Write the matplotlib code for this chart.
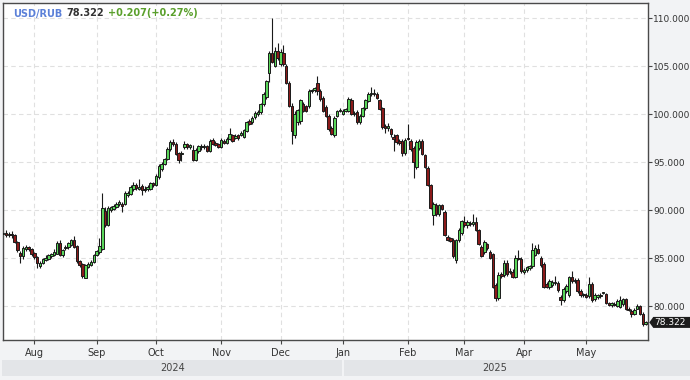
import numpy as np
import pandas as pd
import matplotlib
matplotlib.use("Agg")
import matplotlib.pyplot as plt
from matplotlib.patches import Rectangle, Polygon
from matplotlib.transforms import IdentityTransform

# ---------------- data ----------------
symbol = "USD/RUB"
change = 0.207
change_pct = 0.27
dates = pd.bdate_range("2024-07-17", "2025-05-30")

# (open, high, low, close) per trading day, grouped by month
jul = [(87.5, 87.8, 87.3, 87.6), (87.6, 87.9, 87.2, 87.4), (87.4, 87.7, 87.2, 87.5),
       (87.5, 87.8, 87.1, 87.4), (87.4, 87.5, 86.6, 86.7), (86.7, 86.8, 85.7, 85.9),
       (85.6, 85.8, 84.5, 85.2), (85.2, 86.3, 84.9, 86.1), (86.0, 86.4, 85.8, 86.2),
       (86.2, 86.3, 85.8, 86.0), (86.0, 86.1, 85.2, 85.4)]
aug = [(85.6, 85.7, 84.9, 85.1), (85.1, 85.2, 84.0, 84.5), (84.2, 84.7, 84.0, 84.5),
       (84.5, 85.0, 84.4, 84.9), (84.8, 85.3, 84.7, 85.0), (84.9, 85.5, 84.8, 85.35),
       (85.2, 85.6, 85.0, 85.4), (85.35, 86.0, 85.2, 85.7), (85.5, 86.8, 85.4, 86.55),
       (86.55, 86.9, 85.2, 85.35), (85.35, 86.0, 85.1, 85.9), (86.05, 86.4, 85.9, 86.2),
       (86.2, 86.7, 86.0, 86.55), (86.4, 87.0, 86.3, 86.9), (86.9, 87.3, 86.1, 86.2),
       (86.3, 86.4, 84.5, 84.7), (84.7, 84.8, 84.1, 84.3), (84.4, 84.5, 82.9, 83.15),
       (83.0, 84.4, 82.9, 84.3), (84.1, 84.6, 84.0, 84.45), (84.3, 84.8, 84.2, 84.6),
       (84.6, 85.4, 84.5, 85.3)]
sep = [(85.3, 85.9, 85.2, 85.75), (85.65, 87.1, 85.5, 86.3), (86.0, 91.8, 85.9, 90.25),
       (89.9, 90.3, 88.3, 88.45), (88.5, 90.4, 88.4, 90.2), (90.0, 90.5, 89.8, 90.3),
       (90.1, 90.7, 90.0, 90.5), (90.3, 90.9, 90.2, 90.7), (90.7, 91.1, 90.5, 90.9),
       (90.7, 90.9, 89.8, 90.4), (90.7, 92.0, 90.6, 91.8), (91.6, 92.0, 91.4, 91.8),
       (91.75, 92.6, 91.6, 92.4), (92.25, 92.9, 92.0, 92.6), (92.6, 92.8, 92.1, 92.3),
       (92.25, 93.3, 92.1, 92.4), (92.5, 92.7, 91.6, 92.1), (92.1, 92.5, 91.9, 92.25),
       (92.25, 92.6, 92.0, 92.4), (92.25, 93.0, 92.1, 92.8), (92.85, 93.0, 92.4, 92.6)]
oct_ = [(92.6, 93.8, 92.5, 93.6), (93.45, 94.8, 93.3, 94.65), (94.3, 95.0, 94.1, 94.8),
        (94.85, 95.5, 94.7, 95.35), (95.35, 96.6, 95.2, 96.4), (96.4, 97.3, 96.2, 97.1),
        (97.1, 97.4, 96.7, 96.9), (96.9, 97.1, 95.8, 95.9), (95.95, 96.1, 94.9, 95.2),
        (95.9, 96.2, 95.1, 96.0), (96.55, 97.2, 96.4, 96.9), (96.9, 97.0, 96.4, 96.6),
        (96.6, 96.9, 96.4, 96.8), (96.3, 96.8, 95.1, 95.25), (95.25, 96.5, 95.1, 96.3),
        (96.2, 96.8, 96.0, 96.65), (96.6, 96.9, 96.3, 96.6), (96.6, 96.9, 96.4, 96.7),
        (96.65, 96.8, 96.1, 96.2), (96.2, 97.4, 96.1, 97.25), (97.3, 97.5, 96.8, 96.9),
        (97.0, 97.2, 96.7, 96.8), (96.9, 97.0, 96.5, 96.6)]
nov = [(96.6, 97.5, 96.5, 97.3), (97.2, 97.4, 96.9, 97.0), (97.0, 97.6, 96.9, 97.4),
       (97.45, 98.6, 97.3, 97.9), (97.8, 98.0, 97.1, 97.25), (97.5, 97.9, 97.4, 97.7),
       (97.8, 98.0, 97.3, 97.5), (97.8, 98.3, 97.7, 98.1), (97.6, 98.5, 97.5, 98.35),
       (98.3, 99.3, 98.2, 99.15), (99.3, 99.5, 98.9, 99.0), (99.15, 99.8, 99.0, 99.65),
       (99.7, 100.3, 99.5, 100.1), (100.0, 100.4, 99.8, 100.2), (100.2, 101.2, 100.0, 101.05),
       (101.05, 102.3, 100.9, 102.15), (101.8, 103.6, 101.6, 103.45), (104.3, 106.6, 103.4, 106.4),
       (106.4, 110.0, 105.3, 105.5), (105.0, 107.0, 104.9, 106.65), (106.6, 107.4, 105.7, 105.9)]
dec = [(105.2, 106.8, 105.0, 106.5), (106.4, 107.2, 105.0, 105.2), (105.0, 105.2, 103.2, 103.3),
       (103.3, 103.5, 100.8, 100.9), (100.9, 101.2, 96.9, 98.3), (97.8, 100.3, 97.5, 100.0),
       (99.15, 100.6, 98.9, 100.4), (99.3, 101.6, 99.0, 101.45), (101.05, 101.3, 100.2, 100.35),
       (100.9, 101.0, 100.2, 100.35), (100.9, 102.6, 100.7, 102.45), (102.4, 102.6, 102.2, 102.5),
       (102.5, 102.8, 102.3, 102.7), (103.3, 104.0, 102.0, 102.45), (102.45, 102.6, 101.4, 101.6),
       (101.75, 101.9, 100.2, 100.35), (100.8, 101.0, 99.7, 99.85), (99.85, 100.0, 98.3, 98.45),
       (98.6, 98.8, 97.8, 97.95), (97.8, 99.8, 97.6, 99.65), (99.85, 100.5, 99.7, 100.35),
       (100.35, 100.7, 100.2, 100.5)]
jan = [(100.0, 100.6, 99.9, 100.35), (100.3, 100.7, 100.2, 100.55), (100.35, 101.8, 100.2, 101.6),
       (101.5, 101.7, 99.9, 100.0), (100.0, 100.3, 99.8, 100.1), (100.2, 100.4, 99.0, 99.15),
       (99.15, 100.0, 99.0, 99.85), (99.85, 100.8, 99.7, 100.7), (100.7, 101.6, 100.5, 101.45),
       (101.4, 102.3, 101.3, 102.15), (102.1, 102.8, 101.9, 102.25), (102.2, 102.6, 101.9, 102.1),
       (102.15, 102.3, 101.6, 101.7), (101.45, 101.6, 100.4, 100.55), (100.65, 100.8, 98.5, 98.7),
       (98.8, 99.0, 98.1, 98.6), (98.55, 99.1, 98.3, 98.8), (98.45, 98.6, 97.6, 97.95),
       (97.65, 97.9, 96.2, 97.4), (97.8, 98.0, 96.9, 97.1), (97.2, 97.4, 96.8, 97.05),
       (97.25, 97.4, 95.7, 95.95), (96.0, 97.5, 95.8, 97.3)]
feb = [(97.5, 99.0, 97.3, 97.4), (97.25, 97.4, 96.2, 96.4), (96.5, 96.7, 93.4, 95.0),
       (94.55, 97.3, 94.3, 97.1), (96.5, 97.4, 96.3, 97.25), (97.2, 97.4, 95.8, 95.9),
       (95.8, 95.9, 94.4, 94.55), (94.4, 94.6, 92.5, 92.6), (92.6, 92.7, 90.1, 90.2),
       (89.5, 90.9, 88.5, 90.7), (90.55, 90.8, 89.4, 89.6), (89.6, 90.7, 89.4, 90.55),
       (90.55, 90.7, 90.0, 90.1), (89.85, 90.0, 87.3, 87.4), (87.25, 87.4, 86.8, 86.9),
       (87.1, 87.2, 86.7, 86.8), (86.9, 87.1, 85.0, 85.2), (84.8, 87.0, 84.5, 86.9),
       (86.9, 88.2, 86.7, 88.0), (87.6, 89.0, 87.4, 88.9)]
mar = [(88.8, 89.4, 88.3, 88.45), (88.45, 89.0, 88.2, 88.8), (88.7, 88.9, 88.4, 88.6),
       (88.6, 89.6, 88.4, 88.8), (88.8, 89.3, 87.8, 87.9), (88.0, 88.1, 86.4, 86.5),
       (86.2, 86.4, 85.1, 85.2), (85.7, 86.9, 85.5, 86.7), (86.5, 86.6, 85.9, 86.1),
       (85.7, 85.9, 84.9, 85.0), (85.45, 85.6, 81.9, 82.05), (82.2, 82.4, 80.6, 80.9),
       (80.9, 83.6, 80.7, 83.3), (83.4, 83.6, 83.0, 83.2), (83.3, 84.8, 83.1, 84.5),
       (84.5, 84.8, 83.2, 83.4), (83.6, 84.0, 83.4, 83.7), (83.6, 83.9, 82.9, 83.1),
       (83.1, 85.3, 82.9, 85.0), (85.0, 85.9, 84.8, 84.9), (84.9, 85.1, 83.5, 83.7)]
apr = [(83.6, 84.0, 83.4, 83.8), (83.8, 84.2, 83.6, 84.1), (84.0, 84.3, 83.8, 84.2),
       (84.15, 86.6, 84.0, 85.85), (85.35, 86.4, 85.2, 86.05), (86.0, 86.5, 85.4, 85.6),
       (85.0, 85.2, 84.1, 84.3), (84.4, 84.6, 81.9, 82.05), (82.3, 82.5, 81.9, 82.05),
       (82.0, 82.8, 81.8, 82.6), (82.2, 82.7, 82.0, 82.5), (82.5, 83.2, 82.2, 82.4),
       (82.4, 82.6, 81.5, 81.7), (81.0, 81.2, 80.1, 80.7), (80.7, 82.0, 80.5, 81.8),
       (81.6, 82.3, 81.4, 82.1), (81.2, 83.2, 81.0, 83.05), (83.05, 83.7, 82.4, 82.6),
       (82.7, 82.9, 82.4, 82.6), (82.75, 82.9, 81.4, 81.55), (81.55, 81.8, 81.0, 81.2),
       (81.2, 81.4, 81.0, 81.25)]
may = [(81.2, 81.4, 80.9, 81.0), (81.1, 83.05, 80.9, 82.35), (82.35, 82.5, 80.5, 80.7),
       (80.8, 81.4, 80.6, 81.2), (81.0, 81.3, 80.8, 81.2), (81.1, 81.4, 80.9, 81.2),
       (81.4, 81.5, 81.3, 81.4), (81.3, 81.4, 80.2, 80.3), (80.3, 80.4, 80.0, 80.1),
       (80.1, 80.4, 79.9, 80.3), (80.2, 80.4, 80.0, 80.1), (80.0, 80.8, 79.9, 80.6),
       (79.9, 81.1, 79.8, 80.7), (80.2, 80.9, 80.0, 80.8), (80.8, 80.9, 79.6, 79.7),
       (79.7, 79.9, 79.5, 79.6), (79.5, 79.7, 78.9, 79.2), (79.2, 79.8, 79.1, 79.6),
       (79.75, 80.2, 79.7, 80.0), (80.0, 80.1, 79.1, 79.25), (79.25, 79.4, 78.0, 78.115),
       (78.115, 78.5, 78.05, 78.322)]

month_labels = ["Aug", "Sep", "Oct", "Nov", "Dec", "Jan", "Feb", "Mar", "Apr", "May"]
year_labels = ["2024", "2025"]
y_ticks = [80, 85, 90, 95, 100, 105, 110]

df = pd.DataFrame(jul + aug + sep + oct_ + nov + dec + jan + feb + mar + apr + may,
                  columns=["open", "high", "low", "close"], index=dates)

# ---------------- figure ----------------
W, HP = 690, 380
BG = "#f2f3f5"
fig = plt.figure(figsize=(W / 100, HP / 100), dpi=100, facecolor=BG)
L_px, R_px, T_px, B_px = 2.7, 648.3, 2.7, 340.0
ax = fig.add_axes([L_px / W, 1 - B_px / HP, (R_px - L_px) / W, (B_px - T_px) / HP])
ax.set_facecolor("white")

x = np.arange(len(df))
o, h, l, c = df["open"].values, df["high"].values, df["low"].values, df["close"].values
up = c >= o
GREEN, RED, EDGE = "#5ad65a", "#8b1a1a", "#1a1a1a"
ax.vlines(x, l, h, color=EDGE, lw=0.8, zorder=2)
ax.bar(x, np.maximum(np.abs(c - o), 0.05), bottom=np.minimum(o, c), width=0.88,
       color=np.where(up, GREEN, RED), edgecolor=EDGE, linewidth=0.7, zorder=3)

ax.set_xlim(-0.18, 227.95)
ax.set_ylim(76.49, 111.63)

# month ticks (first trading day of each new month)
month_starts = [i for i in range(1, len(dates)) if dates[i].month != dates[i - 1].month]
ax.set_xticks(month_starts)
ax.set_xticklabels(month_labels)
ax.yaxis.tick_right()
ax.set_yticks(y_ticks)
ax.set_yticklabels([f"{v:.3f}" for v in y_ticks])
ax.tick_params(axis="y", length=2.6, width=0.8, color="#444444", pad=0.8,
               labelsize=6.5, labelcolor="#333333")
ax.tick_params(axis="x", length=3, width=0.8, color="#444444", pad=2.5,
               labelsize=7, labelcolor="#333333")
ax.grid(True, color="#e0e0e0", linestyle=(0, (4, 3)), linewidth=0.8)
ax.set_axisbelow(True)
for s in ax.spines.values():
    s.set_color("#4a4a4a")
    s.set_linewidth(1.0)

# year band
jan_idx = [i for i in month_starts if dates[i].year != dates[i - 1].year][0]
jan_px = ax.transData.transform((jan_idx, 0))[0]
last_px = ax.transData.transform((len(df) - 1, 0))[0]
band_y0, band_h = 4, 16
fig.add_artist(Rectangle((1.5, band_y0), jan_px - 2.5, band_h, transform=IdentityTransform(),
                         fc="#e3e5e8", ec="none", zorder=0))
fig.add_artist(Rectangle((jan_px + 1, band_y0), W - jan_px - 1, band_h, transform=IdentityTransform(),
                         fc="#e3e5e8", ec="none", zorder=0))
fig.text(((L_px + jan_px) / 2) / W, (band_y0 + band_h / 2) / HP, year_labels[0], fontsize=7,
         color="#444444", ha="center", va="center")
fig.text(((jan_px + last_px) / 2) / W, (band_y0 + band_h / 2) / HP, year_labels[1], fontsize=7,
         color="#444444", ha="center", va="center")

# header
last_close = c[-1]
parts = [(symbol, "#5b80d8"), (f"{last_close:.3f}", "#333333"),
         (f"{change:+.3f}({change_pct:+.2f}%)", "#5aa02c")]
renderer = fig.canvas.get_renderer()
xpos = 12.7
for s, col in parts:
    t = fig.text(xpos / W, 1 - 13.5 / HP, s, color=col, fontsize=7, fontweight="bold",
                 ha="left", va="center")
    bb = t.get_window_extent(renderer)
    xpos = bb.x1 + 4

# last price marker
yp = ax.transData.transform((0, last_close))[1]
xr = ax.transAxes.transform((1, 0))[0]
verts = [(xr + 1, yp), (xr + 5, yp + 5.5), (W, yp + 5.5), (W, yp - 5.5), (xr + 5, yp - 5.5)]
fig.add_artist(Polygon(verts, closed=True, transform=IdentityTransform(), fc="#1c1c1c", ec="none"))
fig.text((xr + 6) / W, yp / HP, f"{last_close:.3f}", color="white", fontsize=6.5,
         ha="left", va="center")

fig.savefig("out.png", dpi=100, facecolor=BG)
